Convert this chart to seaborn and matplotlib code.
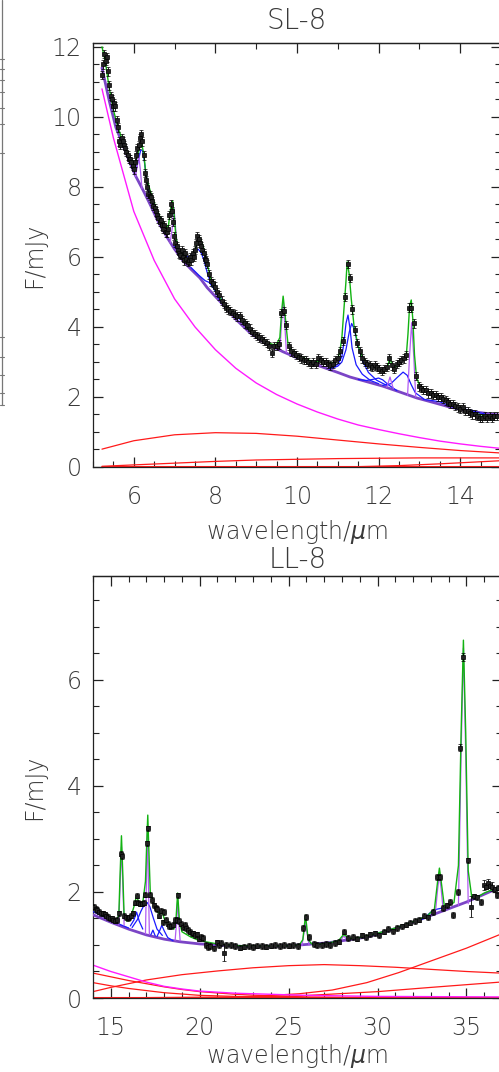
import matplotlib
matplotlib.use("Agg")
import matplotlib.pyplot as plt
import seaborn as sns
from matplotlib.ticker import MultipleLocator
from matplotlib.lines import Line2D

# ---------------- SL-8 (top panel) ----------------
sl_wave = [5.22, 5.25, 5.28, 5.31, 5.34, 5.37, 5.40, 5.43, 5.46, 5.49,
           5.52, 5.55, 5.58, 5.61, 5.64, 5.67, 5.70, 5.73, 5.76, 5.79,
           5.82, 5.85, 5.88, 5.91, 5.94, 5.97, 6.00, 6.03, 6.06, 6.09,
           6.12, 6.15, 6.18, 6.21, 6.24, 6.27, 6.30, 6.33, 6.36, 6.39,
           6.42, 6.45, 6.48, 6.51, 6.54, 6.57, 6.60, 6.63, 6.66, 6.69,
           6.72, 6.75, 6.78, 6.81, 6.84, 6.87, 6.90, 6.93, 6.96, 6.99,
           7.02, 7.05, 7.08, 7.11, 7.14, 7.17, 7.20, 7.23, 7.26, 7.29,
           7.32, 7.35, 7.38, 7.41, 7.44, 7.47, 7.50, 7.53, 7.56, 7.59,
           7.62, 7.65, 7.68, 7.71, 7.74, 7.77, 7.80, 7.85, 7.90, 7.95,
           8.00, 8.05, 8.10, 8.15, 8.20, 8.25, 8.30, 8.36, 8.42, 8.48,
           8.54, 8.60, 8.66, 8.72, 8.78, 8.84, 8.90, 8.96, 9.02, 9.08,
           9.14, 9.20, 9.26, 9.32, 9.38, 9.44, 9.50, 9.56, 9.62, 9.68,
           9.74, 9.80, 9.86, 9.92, 9.98, 10.04, 10.10, 10.16, 10.22, 10.28,
           10.34, 10.40, 10.46, 10.52, 10.58, 10.64, 10.70, 10.76, 10.82, 10.88,
           10.94, 11.00, 11.06, 11.12, 11.18, 11.24, 11.30, 11.36, 11.42, 11.48,
           11.54, 11.60, 11.66, 11.72, 11.78, 11.84, 11.90, 11.96, 12.02, 12.08,
           12.14, 12.20, 12.26, 12.32, 12.38, 12.44, 12.50, 12.56, 12.62, 12.68,
           12.74, 12.80, 12.86, 12.92, 12.98, 13.04, 13.10, 13.16, 13.22, 13.28,
           13.34, 13.40, 13.46, 13.52, 13.58, 13.64, 13.70, 13.76, 13.82, 13.88,
           13.94, 14.00, 14.06, 14.12, 14.18, 14.24, 14.30, 14.36, 14.42, 14.48,
           14.54, 14.60, 14.66, 14.72, 14.78, 14.84, 14.90]
sl_flux = [11.2, 11.5, 11.8, 11.6, 11.7, 11.3, 10.9, 10.6, 10.5, 10.3,
           10.4, 10.3, 9.9, 9.7, 9.3, 9.2, 9.4, 9.3, 9.2, 9.1,
           9.0, 8.9, 8.8, 8.8, 8.7, 8.6, 8.5, 8.7, 8.9, 9.1,
           9.2, 9.4, 9.5, 9.3, 8.9, 8.4, 8.2, 8.0, 7.8, 7.75,
           7.7, 7.6, 7.45, 7.4, 7.3, 7.2, 7.1, 7.0, 7.05, 6.9,
           6.8, 6.9, 6.7, 6.7, 6.8, 7.2, 7.5, 7.3, 7.0, 6.6,
           6.4, 6.3, 6.2, 6.1, 6.05, 6.2, 6.0, 5.9, 6.1, 5.95,
           5.85, 5.9, 6.0, 5.9, 6.1, 6.0, 6.2, 6.4, 6.6, 6.5,
           6.4, 6.3, 6.2, 6.1, 5.95, 5.9, 5.8, 5.5, 5.3, 5.25,
           5.15, 5.0, 4.9, 4.75, 4.65, 4.55, 4.5, 4.45, 4.4, 4.35,
           4.3, 4.3, 4.2, 4.1, 4.05, 3.95, 3.85, 3.8, 3.75, 3.7,
           3.65, 3.6, 3.55, 3.45, 3.25, 3.45, 3.45, 3.5, 4.4, 4.45,
           4.05, 3.45, 3.3, 3.25, 3.2, 3.15, 3.1, 3.05, 3.05, 3.0,
           2.95, 3.0, 2.95, 3.1, 3.05, 3.0, 3.0, 2.95, 2.9, 2.95,
           3.05, 3.1, 3.3, 3.6, 4.85, 5.8, 5.4, 4.5, 3.9, 3.55,
           3.3, 3.1, 3.0, 2.95, 2.9, 2.85, 2.9, 2.85, 2.8, 2.75,
           2.8, 2.85, 3.1, 2.9, 2.8, 2.95, 3.0, 3.05, 3.1, 3.2,
           4.55, 4.55, 4.1, 2.6, 2.3, 2.25, 2.2, 2.2, 2.1, 2.1,
           2.05, 2.05, 2.0, 2.0, 1.95, 1.9, 1.85, 1.8, 1.8, 1.75,
           1.7, 1.65, 1.7, 1.6, 1.6, 1.55, 1.5, 1.5, 1.45, 1.4,
           1.4, 1.45, 1.4, 1.45, 1.4, 1.45, 1.45]
sl_err = 0.12

sl_model_w = [5.22, 5.3, 5.4, 5.5, 5.6, 5.7, 5.8, 5.9, 6.0, 6.05,
              6.1, 6.15, 6.2, 6.25, 6.3, 6.4, 6.5, 6.6, 6.7, 6.8,
              6.85, 6.9, 6.95, 6.99, 7.03, 7.07, 7.1, 7.2, 7.3, 7.4,
              7.5, 7.55, 7.62, 7.7, 7.8, 7.9, 8.0, 8.1, 8.2, 8.3,
              8.4, 8.5, 8.6, 8.7, 8.8, 9.0, 9.2, 9.4, 9.5, 9.58,
              9.62, 9.66, 9.70, 9.74, 9.78, 9.85, 10.0, 10.2, 10.4, 10.5,
              10.6, 10.8, 10.9, 11.0, 11.05, 11.1, 11.15, 11.2, 11.23, 11.28,
              11.33, 11.4, 11.5, 11.6, 11.7, 11.8, 11.9, 12.0, 12.1, 12.2,
              12.24, 12.28, 12.32, 12.4, 12.5, 12.6, 12.68, 12.72, 12.76, 12.8,
              12.84, 12.88, 12.93, 13.0, 13.2, 13.4, 13.6, 13.8, 14.0, 14.2,
              14.4, 14.6, 14.8, 15.0]
sl_model_f = [12.0, 11.6, 10.8, 10.2, 9.75, 9.4, 9.1, 8.85, 8.7, 8.75,
              8.95, 9.15, 9.2, 8.9, 8.3, 7.9, 7.55, 7.25, 7.0, 6.85,
              6.9, 7.35, 7.6, 7.2, 6.6, 6.35, 6.25, 6.05, 5.95, 5.95,
              6.15, 6.4, 6.55, 6.3, 5.8, 5.3, 5.05, 4.85, 4.7, 4.55,
              4.45, 4.35, 4.25, 4.1, 3.95, 3.75, 3.6, 3.5, 3.5, 3.7,
              4.4, 4.88, 4.45, 3.95, 3.5, 3.33, 3.2, 3.1, 3.0, 3.02,
              3.0, 2.97, 2.98, 3.1, 3.3, 3.7, 4.5, 5.3, 5.86, 5.5,
              4.8, 4.0, 3.45, 3.15, 2.98, 2.9, 2.85, 2.8, 2.77, 2.8,
              2.95, 3.15, 2.92, 2.85, 2.95, 3.05, 3.2, 3.8, 4.6, 4.77,
              4.2, 3.2, 2.55, 2.35, 2.15, 2.05, 1.9, 1.8, 1.7, 1.6,
              1.52, 1.47, 1.44, 1.42]

sl_cont_w = [5.22, 5.4, 5.56, 5.7, 5.81, 5.9, 6.05, 6.23, 6.4, 6.6,
             6.81, 7.0, 7.2, 7.4, 7.62, 7.8, 8.04, 8.28, 8.5, 8.85,
             9.2, 9.66, 10.0, 10.49, 11.0, 11.3, 11.7, 12.1, 12.5, 12.94,
             13.35, 13.75, 14.3, 15.0]
sl_cont_f = [11.4, 10.45, 9.7, 9.3, 8.97, 8.7, 8.3, 7.9, 7.5, 7.0,
             6.57, 6.22, 5.9, 5.65, 5.4, 5.12, 4.82, 4.52, 4.22, 3.83,
             3.55, 3.29, 3.12, 2.91, 2.7, 2.57, 2.44, 2.31, 2.15, 1.97,
             1.84, 1.71, 1.58, 1.48]

sl_star_w = [5.22, 5.5, 6.0, 6.5, 7.0, 7.5, 8.0, 8.5, 9.0, 9.5, 10.0,
             10.5, 11.0, 11.5, 12.0, 12.5, 13.0, 13.5, 14.0, 14.5, 15.0]
sl_star_f = [10.8, 9.4, 7.3, 5.9, 4.8, 4.0, 3.35, 2.82, 2.4, 2.07, 1.8,
             1.57, 1.37, 1.2, 1.07, 0.95, 0.84, 0.74, 0.66, 0.59, 0.53]

sl_dust = {
    "d1": ([5.22, 6, 7, 8, 9, 10, 11, 12, 13, 14, 15],
           [0.51, 0.75, 0.92, 0.98, 0.96, 0.88, 0.77, 0.66, 0.56, 0.47, 0.4]),
    "d2": ([5.22, 6, 7, 8, 9, 10, 11, 12, 13, 14, 15],
           [0.02, 0.06, 0.11, 0.16, 0.2, 0.22, 0.24, 0.25, 0.26, 0.26, 0.26]),
    "d3": ([10.5, 11.5, 12.5, 13.5, 14.5, 15.0],
           [0.0, 0.01, 0.04, 0.09, 0.15, 0.18]),
    "d0": ([5.22, 15.0], [0.0, 0.0]),
}

sl_pah = {
    "6.2": ([5.9, 6.0, 6.07, 6.12, 6.17, 6.21, 6.25, 6.3, 6.4, 6.55, 6.7],
            [8.8, 8.5, 8.55, 8.8, 9.05, 9.05, 8.8, 8.35, 7.7, 7.25, 6.88]),
    "7.6": ([7.0, 7.2, 7.35, 7.45, 7.52, 7.58, 7.65, 7.72, 7.8, 7.9, 8.05, 8.3],
            [6.3, 6.05, 6.0, 6.08, 6.18, 6.22, 6.12, 5.9, 5.55, 5.2, 4.95, 4.55]),
    "7.85": ([7.4, 7.6, 7.75, 7.85, 7.95, 8.1, 8.3],
             [5.7, 5.47, 5.32, 5.27, 5.12, 4.78, 4.5]),
    "8.6": ([8.3, 8.45, 8.6, 8.75, 8.9, 9.1, 9.3],
            [4.55, 4.38, 4.22, 4.02, 3.85, 3.66, 3.5]),
    "11.23": ([10.8, 11.0, 11.1, 11.15, 11.2, 11.25, 11.3, 11.35, 11.45, 11.6, 11.8, 12.0],
              [2.82, 2.93, 3.15, 3.55, 4.1, 4.34, 3.95, 3.4, 2.92, 2.65, 2.47, 2.38]),
    "11.33": ([10.8, 11.0, 11.1, 11.2, 11.28, 11.34, 11.4, 11.5, 11.6, 11.75, 11.95, 12.2],
              [2.8, 2.88, 3.0, 3.35, 3.85, 4.1, 3.95, 3.45, 3.05, 2.7, 2.48, 2.33]),
    "12.0": ([11.5, 11.7, 11.85, 12.0, 12.1, 12.25, 12.45],
             [2.5, 2.47, 2.5, 2.54, 2.49, 2.34, 2.18]),
    "12.6": ([12.1, 12.3, 12.45, 12.6, 12.7, 12.8, 12.9, 13.1],
             [2.33, 2.38, 2.55, 2.71, 2.62, 2.35, 2.12, 1.95]),
    "13.5": ([13.1, 13.3, 13.5, 13.7, 13.9], [1.93, 1.9, 1.86, 1.77, 1.68]),
    "14.2": ([13.9, 14.1, 14.25, 14.4, 14.6], [1.67, 1.65, 1.63, 1.57, 1.52]),
}

sl_lines = {
    "6.11": ([6.04, 6.08, 6.12, 6.16, 6.2], [8.3, 8.55, 8.9, 8.5, 7.95]),
    "6.99": ([6.89, 6.94, 6.985, 7.03, 7.08], [6.4, 6.8, 7.4, 6.75, 6.15]),
    "9.66": ([9.58, 9.62, 9.66, 9.70, 9.74], [3.33, 4.1, 4.72, 4.1, 3.27]),
    "10.51": ([10.45, 10.51, 10.57], [2.93, 3.03, 2.9]),
    "12.28": ([12.2, 12.24, 12.28, 12.32, 12.36], [2.28, 2.42, 2.57, 2.4, 2.24]),
    "12.81": ([12.71, 12.76, 12.81, 12.86, 12.91], [2.05, 3.2, 4.12, 3.2, 2.0]),
}

# ---------------- LL-8 (bottom panel) ----------------
ll_wave = [14.05, 14.15, 14.25, 14.35, 14.45, 14.55, 14.65, 14.75, 14.85, 14.95,
           15.05, 15.15, 15.25, 15.35, 15.45, 15.55, 15.65, 15.75, 15.85, 15.95,
           16.05, 16.15, 16.25, 16.35, 16.45, 16.55, 16.65, 16.75, 16.85, 16.95,
           17.05, 17.12, 17.22, 17.32, 17.42, 17.52, 17.62, 17.72, 17.82, 17.92,
           18.00, 18.10, 18.20, 18.30, 18.40, 18.50, 18.60, 18.70, 18.76, 18.85,
           18.95, 19.05, 19.15, 19.25, 19.35, 19.45, 19.55, 19.65, 19.75, 19.85,
           19.95, 20.05, 20.20, 20.35, 20.45, 20.60, 20.80, 20.95, 21.10, 21.20,
           21.35, 21.50, 21.75, 22.00, 22.25, 22.50, 22.75, 23.00, 23.25, 23.50,
           23.75, 24.00, 24.25, 24.50, 24.75, 25.00, 25.25, 25.50, 25.80, 25.95,
           26.15, 26.40, 26.60, 26.85, 27.10, 27.35, 27.60, 27.85, 28.10, 28.35,
           28.60, 28.85, 29.10, 29.35, 29.60, 29.85, 30.10, 30.35, 30.60, 30.85,
           31.10, 31.35, 31.60, 31.85, 32.10, 32.35, 32.60, 32.85, 33.10, 33.37,
           33.54, 33.70, 33.90, 34.10, 34.27, 34.50, 34.66, 34.83, 35.06, 35.28,
           35.45, 35.60, 35.80, 36.00, 36.10, 36.20, 36.35, 36.45, 36.60, 36.70,
           36.80]
ll_flux = [1.72, 1.68, 1.66, 1.63, 1.60, 1.60, 1.58, 1.55, 1.53, 1.50,
           1.50, 1.48, 1.46, 1.47, 1.60, 2.72, 2.68, 1.55, 1.52, 1.50,
           1.52, 1.55, 1.60, 1.80, 1.93, 1.80, 1.78, 1.78, 1.80, 1.95,
           2.92, 3.20, 1.95, 1.85, 1.75, 1.70, 1.68, 1.55, 1.65, 1.43,
           1.62, 1.48, 1.40, 1.36, 1.35, 1.38, 1.47, 1.47, 1.94, 1.45,
           1.40, 1.34, 1.38, 1.32, 1.28, 1.25, 1.22, 1.22, 1.18, 1.20,
           1.12, 1.15, 1.13, 1.00, 0.96, 0.98, 0.94, 1.05, 1.00, 1.04,
           0.85, 1.00, 1.00, 0.98, 0.95, 0.97, 0.98, 0.96, 0.99, 0.98,
           0.97, 0.99, 1.00, 0.98, 1.00, 0.99, 1.00, 0.98, 1.32, 1.53,
           1.15, 1.02, 1.00, 1.00, 1.02, 1.00, 1.04, 1.06, 1.25, 1.13,
           1.15, 1.12, 1.18, 1.15, 1.20, 1.22, 1.18, 1.25, 1.30, 1.26,
           1.32, 1.35, 1.38, 1.42, 1.45, 1.48, 1.55, 1.52, 1.62, 2.28,
           2.28, 1.70, 1.75, 1.81, 1.57, 2.00, 4.72, 6.43, 2.60, 1.72,
           1.92, 1.90, 1.81, 2.13, 2.10, 2.17, 2.12, 2.10, 2.05, 1.94,
           2.08]
ll_err_default = 0.05
ll_err_large = {21.35: 0.16, 35.28: 0.2, 36.00: 0.1, 36.20: 0.08, 36.45: 0.08,
                34.66: 0.07, 34.83: 0.07, 34.27: 0.06}

ll_model_w = [14.0, 14.5, 15.0, 15.3, 15.45, 15.52, 15.6, 15.68, 15.75, 15.9,
              16.1, 16.3, 16.45, 16.6, 16.8, 16.95, 17.03, 17.08, 17.14, 17.22,
              17.35, 17.5, 17.7, 17.87, 18.0, 18.3, 18.55, 18.66, 18.76, 18.86,
              19.0, 19.5, 20.0, 21.0, 22.0, 23.0, 24.0, 25.0, 25.6, 25.8,
              25.95, 26.1, 26.3, 27.0, 27.8, 28.1, 28.4, 29.0, 30.0, 31.0,
              32.0, 32.8, 33.2, 33.38, 33.48, 33.58, 33.75, 34.0, 34.3, 34.55,
              34.7, 34.83, 34.96, 35.1, 35.3, 35.6, 36.0, 36.5, 36.9]
ll_model_f = [1.7, 1.58, 1.5, 1.47, 1.55, 2.3, 3.06, 2.3, 1.55, 1.45,
              1.5, 1.72, 1.93, 1.78, 1.8, 2.2, 3.0, 3.45, 2.8, 2.0,
              1.85, 1.68, 1.6, 1.65, 1.5, 1.35, 1.3, 1.45, 1.98, 1.45,
              1.25, 1.15, 1.08, 1.02, 0.99, 0.98, 0.98, 0.99, 1.0, 1.1,
              1.56, 1.1, 1.02, 1.02, 1.08, 1.2, 1.12, 1.14, 1.22, 1.32,
              1.44, 1.55, 1.68, 2.2, 2.45, 2.2, 1.75, 1.75, 1.8, 2.5,
              5.0, 6.75, 5.0, 2.4, 1.9, 1.9, 1.98, 2.05, 2.1]

ll_cont_w = [14.0, 15.0, 16.0, 17.0, 18.0, 18.9, 20.0, 21.0, 22.6, 24.5,
             25.6, 27.2, 29.4, 31.2, 33.1, 35.0, 36.9]
ll_cont_f = [1.57, 1.43, 1.3, 1.19, 1.11, 1.06, 1.02, 1.0, 0.97, 0.98,
             1.0, 1.04, 1.15, 1.33, 1.57, 1.81, 2.09]

ll_star_w = [14.0, 15.0, 16.0, 17.0, 18.0, 19.0, 20.0, 22.0, 24.0, 26.0, 30.0, 36.9]
ll_star_f = [0.62, 0.5, 0.4, 0.3, 0.22, 0.17, 0.13, 0.09, 0.07, 0.05, 0.03, 0.02]

ll_dust = {
    "dA": ([14, 15, 17, 19, 21, 23, 25, 27, 29, 31, 33, 35, 36.9],
           [0.12, 0.2, 0.34, 0.44, 0.51, 0.57, 0.61, 0.63, 0.61, 0.58, 0.54, 0.5, 0.47]),
    "dB": ([14, 15, 16, 17, 18, 19, 20, 22, 24, 26, 30, 36.9],
           [0.47, 0.4, 0.33, 0.27, 0.21, 0.16, 0.12, 0.07, 0.04, 0.02, 0.01, 0.0]),
    "dC": ([14, 15, 16, 17, 18, 20, 22, 25, 30, 36.9],
           [0.29, 0.23, 0.18, 0.14, 0.1, 0.05, 0.03, 0.01, 0.0, 0.0]),
    "dD": ([22, 24, 25.6, 27.45, 29.4, 31.2, 33.1, 35.0, 36.9],
           [0.02, 0.05, 0.08, 0.15, 0.29, 0.48, 0.71, 0.94, 1.2]),
    "dE": ([14, 18, 22, 25.6, 30, 33, 36.9],
           [0.0, 0.01, 0.02, 0.04, 0.12, 0.2, 0.3]),
    "d0": ([14.0, 36.9], [0.0, 0.0]),
}

ll_pah = {
    "14.0": ([14.0, 14.5, 15.0, 15.5, 16.0], [1.63, 1.55, 1.47, 1.39, 1.32]),
    "16.45": ([16.1, 16.3, 16.45, 16.6, 16.8], [1.36, 1.47, 1.62, 1.45, 1.3]),
    "17.0": ([16.2, 16.5, 16.7, 16.9, 17.05, 17.2, 17.4, 17.6, 17.9],
             [1.33, 1.48, 1.64, 1.77, 1.8, 1.72, 1.5, 1.3, 1.18]),
    "17.37": ([17.25, 17.37, 17.5], [1.19, 1.28, 1.17]),
    "17.87": ([17.6, 17.75, 17.87, 18.0, 18.2, 18.5], [1.16, 1.27, 1.37, 1.27, 1.14, 1.08]),
    "33.1": ([32.5, 32.8, 33.1, 33.4, 33.7, 34.0], [1.48, 1.56, 1.65, 1.68, 1.7, 1.73]),
}

ll_lines = {
    "15.56": ([15.45, 15.52, 15.6, 15.68, 15.75], [1.38, 2.1, 2.85, 2.1, 1.37]),
    "17.03": ([16.95, 17.01, 17.06, 17.11, 17.17], [1.21, 2.3, 3.2, 2.3, 1.2]),
    "18.71": ([18.62, 18.69, 18.76, 18.83, 18.9], [1.09, 1.4, 1.85, 1.4, 1.08]),
    "25.9": ([25.75, 25.85, 25.95, 26.05, 26.15], [0.99, 1.2, 1.42, 1.2, 1.0]),
    "28.2": ([27.95, 28.1, 28.25], [1.1, 1.17, 1.11]),
    "33.48": ([33.25, 33.38, 33.48, 33.58, 33.7], [1.6, 2.05, 2.32, 2.05, 1.63]),
    "34.82": ([34.55, 34.7, 34.83, 34.96, 35.1], [1.75, 4.6, 6.6, 4.6, 1.78]),
}

# ---------------- styling ----------------
C_DATA = "#000000"
C_MODEL = "#12b312"
C_PAH = "#1a1aff"
C_LINE = "#b25cf2"
C_CONT = "#7b45c6"
C_STAR = "#ff1aff"
C_DUST = "#ff1a1a"
TXT = "#3a3a3a"

sns.set_theme(style="ticks")
plt.rcParams["font.family"] = ["DejaVu Sans"]
plt.rcParams["font.weight"] = "light"
plt.rcParams["axes.edgecolor"] = "#222222"
plt.rcParams["axes.linewidth"] = 0.9

W, H = 499, 1072
fig = plt.figure(figsize=(W / 100, H / 100), dpi=100)


def line(ax, w, f, color, lw, z):
    sns.lineplot(x=w, y=f, ax=ax, color=color, lw=lw, sort=False,
                 estimator=None, zorder=z, legend=False)


def panel(rect, title, title_pad, wave, flux, err, model, cont, star, dust, pah, lines,
          xlim, ylim, xmaj, xmin, ymaj, ymin, top_maj, top_min):
    ax = fig.add_axes(rect)
    for w, f in dust.values():
        line(ax, w, f, C_DUST, 0.9, 2)
    line(ax, dust["d0"][0], dust["d0"][1], C_DUST, 2.2, 2)
    line(ax, star[0], star[1], C_STAR, 1.0, 2)
    for w, f in pah.values():
        line(ax, w, f, C_PAH, 0.9, 4)
    line(ax, cont[0], cont[1], C_CONT, 2.0, 3)
    for w, f in lines.values():
        line(ax, w, f, C_LINE, 0.9, 4)
    line(ax, model[0], model[1], C_MODEL, 1.0, 5)
    ax.errorbar(wave, flux, yerr=err, fmt="s", ms=2.2, mfc="#222222",
                mec=C_DATA, mew=0.5, ecolor=C_DATA, elinewidth=0.6,
                capsize=1.3, capthick=0.6, zorder=6)
    ax.set_xlim(*xlim)
    ax.set_ylim(*ylim)
    ax.xaxis.set_major_locator(MultipleLocator(xmaj))
    ax.xaxis.set_minor_locator(MultipleLocator(xmin))
    ax.yaxis.set_major_locator(MultipleLocator(ymaj))
    ax.yaxis.set_minor_locator(MultipleLocator(ymin))
    ax.tick_params(which="both", direction="in", right=True, top=False,
                   colors="#222222", labelcolor=TXT, labelsize=17)
    ax.tick_params(axis="x", which="major", length=7, width=0.9, pad=13)
    ax.tick_params(axis="y", which="major", length=7, width=0.9, pad=8)
    ax.tick_params(which="minor", length=4, width=0.8)
    sec = ax.secondary_xaxis("top")
    sec.xaxis.set_major_locator(MultipleLocator(top_maj))
    sec.xaxis.set_minor_locator(MultipleLocator(top_min))
    sec.tick_params(which="both", direction="in", labeltop=False, colors="#222222")
    sec.tick_params(which="major", length=7, width=0.9)
    sec.tick_params(which="minor", length=4, width=0.8)
    for s in ax.spines.values():
        s.set_visible(True)
    ax.set_title(title, fontsize=20, color=TXT, pad=title_pad, fontweight="light")
    ax.set_xlabel("wavelength/$\\mu$m", fontsize=17, color=TXT, fontweight="light")
    ax.set_ylabel("F/mJy", fontsize=17, color=TXT, fontweight="light")
    ax.yaxis.set_label_coords(-0.115, 0.5)
    return ax


ax1 = panel([93 / W, 1 - 467 / H, (501 - 93) / W, 424 / H], "SL-8", 10,
            sl_wave, sl_flux, sl_err, (sl_model_w, sl_model_f),
            (sl_cont_w, sl_cont_f), (sl_star_w, sl_star_f), sl_dust, sl_pah,
            sl_lines, (5.0, 15.0), (0, 12.11), 2, 0.5, 2, 0.5, 2, 1)
ax1.xaxis.set_label_coords(0.5, -0.12)

ll_err = [ll_err_large.get(w, ll_err_default) for w in ll_wave]
ax2 = panel([93 / W, 1 - 998 / H, (502 - 93) / W, 422 / H], "LL-8", 6,
            ll_wave, ll_flux, ll_err, (ll_model_w, ll_model_f),
            (ll_cont_w, ll_cont_f), (ll_star_w, ll_star_f), ll_dust, ll_pah,
            ll_lines, (14.0, 37.0), (0, 7.96), 5, 1, 2, 0.5, 5, 1)
ax2.xaxis.set_label_coords(0.5, -0.104)

# neighbouring panel edge visible at the far left of the image
fig.add_artist(Line2D([1.5 / W, 1.5 / W], [1, 1 - 405 / H], transform=fig.transFigure,
                      color="#777777", lw=0.9))
for ty in [59, 69, 80, 92, 108, 124, 153, 337, 357, 375, 393, 405]:
    fig.add_artist(Line2D([0, 4 / W], [1 - ty / H, 1 - ty / H], transform=fig.transFigure,
                          color="#777777", lw=0.8))

fig.savefig("out.png", dpi=100)
